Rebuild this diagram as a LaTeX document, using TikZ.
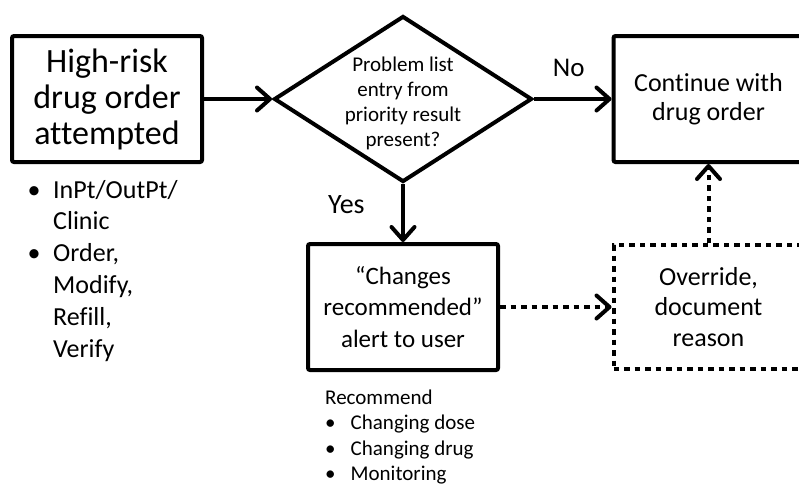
\documentclass[tikz,border=0pt]{standalone}
\usepackage{fontspec}
\setmainfont{Carlito}[Ligatures=NoCommon]
\usetikzlibrary{arrows.meta}
\usetikzlibrary{shapes.geometric}
\tikzstyle{box}=[draw, line width=4pt, rounded corners=2pt, minimum width=190pt, minimum height=126pt, align=center, inner sep=0pt]
\tikzstyle{dotbox}=[draw, line width=4pt, dash pattern=on 5.5pt off 5pt, minimum width=190pt, minimum height=124pt, align=center, inner sep=0pt]
\tikzstyle{decision}=[diamond, draw, line width=4pt, minimum width=258pt, minimum height=166pt, inner sep=0pt]
\tikzstyle{arrow}=[draw=black, line width=4pt, >={Straight Barb[length=13pt,width=23pt,round]}]
\tikzstyle{dotarrow}=[arrow, dash pattern=on 5.5pt off 5pt]

\begin{document}
\begin{tikzpicture}[x=1pt, y=-1pt]
	\useasboundingbox (0,0) rectangle (799,485);
	\fill[white] (0,0) rectangle (799,485);
	\clip (0,0) rectangle (799,485);
	\begin{scope}
		\node (order) at (107, 99)[box, font=\fontsize{34pt}{36pt}\selectfont] {High-risk\\drug order\\attempted};
		\node (check) at (403, 99)[decision] {};
		\node (checktext) at (403, 103)[align=center, font=\fontsize{21pt}{25pt}\selectfont] {Problem list\\entry from\\priority result\\present?};
		\node (continue) at (708.5, 99)[box, font=\fontsize{26pt}{29pt}\selectfont] {Continue with\\drug order};
		\node (alert) at (403, 307)[box, font=\fontsize{25pt}{31.5pt}\selectfont] {“Changes\\recommended”\\alert to user};
		\node (override) at (708.5, 307)[dotbox, font=\fontsize{26pt}{30.5pt}\selectfont] {Override,\\document\\reason};
	\end{scope}
	\begin{scope}
		\node (ordernotes) at (27.5, 198)[anchor=base west, inner sep=0pt, font=\fontsize{26pt}{31.8pt}\selectfont] {%
			\begin{tabular}[t]{@{}l@{}l@{}}
				\makebox[25.5pt][l]{\textbullet} & InPt/OutPt/\\
				& Clinic\\
				\makebox[25.5pt][l]{\textbullet} & Order,\\
				& Modify,\\
				& Refill,\\
				& Verify
			\end{tabular}};
		\node (alertnotes) at (325, 404)[anchor=base west, inner sep=0pt, font=\fontsize{21pt}{25.5pt}\selectfont] {%
			\begin{tabular}[t]{@{}l@{}l@{}}
				\multicolumn{2}{@{}l@{}}{Recommend}\\
				\makebox[25.5pt][l]{\textbullet} & Changing dose\\
				\makebox[25.5pt][l]{\textbullet} & Changing drug\\
				\makebox[25.5pt][l]{\textbullet} & Monitoring
			\end{tabular}};
	\end{scope}
	\begin{scope}
		\path [arrow, ->] (order) edge (check);
		\path [arrow, ->] (check) edge node[above=17pt, xshift=-4pt, font=\fontsize{27pt}{30pt}\selectfont] {No} (continue);
		\path [arrow, ->] (check) edge node[pos=0.35, left=33pt, font=\fontsize{28pt}{30pt}\selectfont] {Yes} (alert);
		\path [dotarrow, ->] (alert) edge (override);
		\path [dotarrow, ->] (override) edge (continue);
	\end{scope}
\end{tikzpicture}
\end{document}
